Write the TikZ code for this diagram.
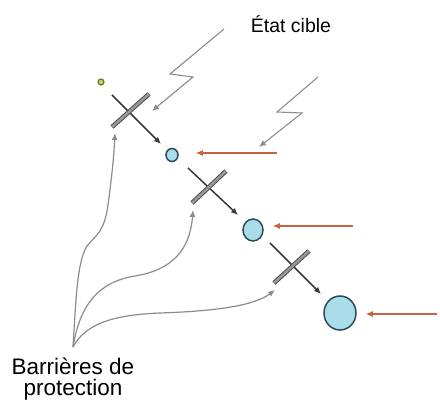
\documentclass[tikz,border=0pt]{standalone}
\usepackage{fontspec}
\setmainfont{Liberation Sans}
\usetikzlibrary{arrows.meta,shapes.geometric}
\definecolor{circfill}{HTML}{A9DDE9}
\definecolor{circedge}{HTML}{2E4A58}
\definecolor{redarr}{HTML}{C8623F}
\definecolor{curvegray}{HTML}{8C8C8C}
\definecolor{dotfill}{HTML}{C8D060}
\definecolor{dotedge}{HTML}{6A7A2A}
\tikzset{
  tipA/.style={-{Latex[length=7pt,width=6pt]}},
  mainarr/.style={tipA, draw=black!78, line width=1.5pt},
  lightning/.style={tipA, draw=curvegray, line width=1.1pt},
  barcurve/.style={tipA, draw=curvegray, line width=1.2pt},
  redarrow/.style={tipA, draw=redarr, line width=1.2pt},
  target/.style={ellipse, draw=circedge, fill=circfill, line width=1.5pt, inner sep=0pt},
  barouter/.style={draw=black!70, line width=4.5pt},
  barinner/.style={draw=black!40, line width=2.5pt},
  lbl/.style={inner sep=0pt, align=center}
}
\begin{document}
\begin{tikzpicture}[x=1pt,y=-1pt]
\useasboundingbox (0,0) rectangle (440,403);
% text
\node[lbl, anchor=base, font=\fontsize{19.5}{20}\selectfont] (etat) at (291,33) {État cible};
\node[lbl, anchor=base, font=\fontsize{22.5}{21}\selectfont] (barr) at (73,396) {Barrières de\\protection};
\coordinate (src) at (73,347);
% dot and targets
\node[circle, draw=dotedge, fill=dotfill, line width=1.2pt, minimum size=6pt, inner sep=0pt] (dot) at (101,82) {};
\node[target, minimum width=12pt, minimum height=13pt] (c1) at (172,155) {};
\node[target, minimum width=20pt, minimum height=22pt] (c2) at (253,230) {};
\node[target, minimum width=32pt, minimum height=34pt] (c3) at (340,313) {};
% main arrows
\coordinate (a1s) at (112,95);  \coordinate (a1e) at (161,144);
\coordinate (a2s) at (188,168); \coordinate (a2e) at (238,215);
\coordinate (a3s) at (270,243); \coordinate (a3e) at (321,294);
\draw[mainarr] (a1s) -- (a1e);
\draw[mainarr] (a2s) -- (a2e);
\draw[mainarr] (a3s) -- (a3e);
% barriers
\coordinate (b1a) at (112,127); \coordinate (b1b) at (149,94);
\coordinate (b2a) at (192,203); \coordinate (b2b) at (226,171);
\coordinate (b3a) at (274,283); \coordinate (b3b) at (309,251);
\foreach \a/\b in {b1a/b1b, b2a/b2b, b3a/b3b}{
  \draw[barouter] (\a) -- (\b);
  \draw[barinner] (\a) -- (\b);
}
% lightning
\coordinate (l1a) at (224,29); \coordinate (l1b) at (170,74); \coordinate (l1c) at (193,77); \coordinate (l1d) at (152,111);
\coordinate (l2a) at (318,77); \coordinate (l2b) at (277,112); \coordinate (l2c) at (302,113); \coordinate (l2d) at (259,147);
\draw[lightning] (l1a) -- (l1b) -- (l1c) -- (l1d);
\draw[lightning] (l2a) -- (l2b) -- (l2c) -- (l2d);
% red arrows
\coordinate (r1) at (277,153);
\coordinate (r2) at (353,226);
\coordinate (r3) at (437,314);
\draw[redarrow] (r1) -- ([xshift=17pt]c1.east |- r1);
\draw[redarrow] (r2) -- ([xshift=9pt]c2.east |- r2);
\draw[redarrow] (r3) -- ([xshift=9pt]c3.east |- r3);
% barrier curves
\coordinate (t1) at (115,133);
\coordinate (t2) at (193,210);
\coordinate (t3) at (275,290);
\draw[barcurve] (src) .. controls (76,300) and (77,262) .. (87,246)
   .. controls (97,234) and (104,232) .. (108,205)
   .. controls (112,175) and (114,155) .. (t1);
\draw[barcurve] (src) .. controls (80,305) and (98,282) .. (135,276)
   .. controls (172,270) and (190,250) .. (t2);
\draw[barcurve] (src) .. controls (85,325) and (110,315) .. (160,313)
   .. controls (220,311) and (255,305) .. (t3);
\end{tikzpicture}
\end{document}
